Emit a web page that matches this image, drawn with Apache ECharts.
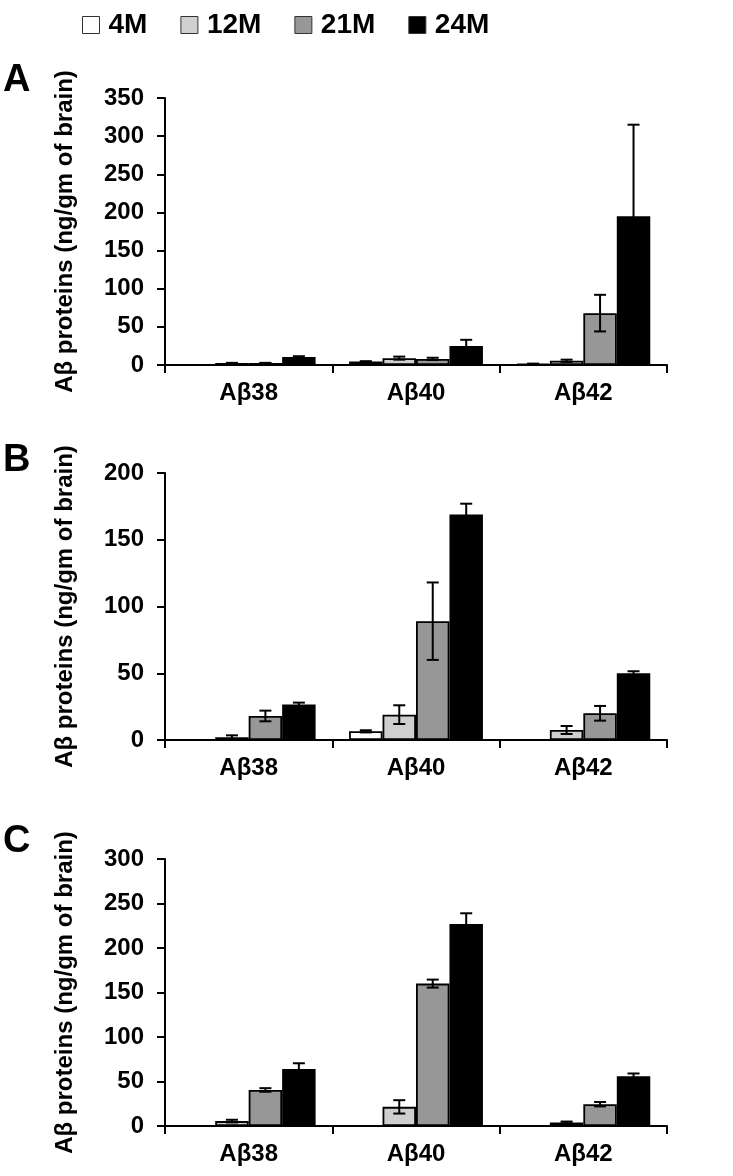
<!DOCTYPE html>
<html>
<head>
<meta charset="utf-8">
<script src="https://cdn.jsdelivr.net/npm/echarts@6/dist/echarts.min.js"></script>
<style>
  html, body { margin: 0; padding: 0; background: #fff; }
  #main { width: 733px; height: 1176px; }
</style>
</head>
<body>
<div id="main"></div>
<script>
const categories = ["Aβ38", "Aβ40", "Aβ42"];
const ages = ["4M", "12M", "21M", "24M"];
const ageColors = ["#ffffff", "#cfcfcf", "#979797", "#000000"];

// panel A (means, then SEM), order Aβ38, Aβ40, Aβ42
const a4M = [0, 4.5, 1.5];
const a12M = [2.5, 9, 5.5];
const a21M = [2.5, 8, 68];
const a24M = [10.5, 25, 195];
const a4MErr = [0, 0.5, 0.3];
const a12MErr = [0.3, 2, 1.5];
const a21MErr = [0.3, 1.5, 24];
const a24MErr = [1, 8, 120];

// panel B
const b4M = [0, 6.5, 0];
const b12M = [2, 19, 7.5];
const b21M = [18, 89, 20];
const b24M = [26.5, 169, 50];
const b4MErr = [0, 0.8, 0];
const b12MErr = [1.5, 7, 3];
const b21MErr = [4, 29, 5.5];
const b24MErr = [1.5, 8, 1.5];

// panel C
const c4M = [0, 0, 0];
const c12M = [5.5, 21.5, 4];
const c21M = [40.5, 160, 24.5];
const c24M = [64, 227, 56];
const c4MErr = [0, 0, 0];
const c12MErr = [1.5, 7.5, 1];
const c21MErr = [2, 4.5, 2.5];
const c24MErr = [6.5, 12, 3];

const panelMax = [350, 200, 300];
const panelLabels = ["A", "B", "C"];

const panels = [
  { means: [a4M, a12M, a21M, a24M], errs: [a4MErr, a12MErr, a21MErr, a24MErr] },
  { means: [b4M, b12M, b21M, b24M], errs: [b4MErr, b12MErr, b21MErr, b24MErr] },
  { means: [c4M, c12M, c21M, c24M], errs: [c4MErr, c12MErr, c21MErr, c24MErr] },
];

const FONT = "'Liberation Sans', Arial, sans-serif";
const gridTops = [98, 473, 859];
const labelY = [81, 461, 842];

var grids = [], xAxes = [], yAxes = [], series = [], graphics = [];

panels.forEach((p, k) => {
  grids.push({ left: 165, width: 502, top: gridTops[k], height: 267 });
  xAxes.push({
    type: "category",
    gridIndex: k,
    data: categories,
    axisLine: { lineStyle: { color: "#000", width: 2 } },
    axisTick: { show: true, length: 8, lineStyle: { color: "#000", width: 2 } },
    axisLabel: { color: "#000", fontSize: 24, fontWeight: "bold", fontFamily: FONT, margin: 16 },
  });
  yAxes.push({
    type: "value",
    gridIndex: k,
    min: 0,
    max: panelMax[k],
    interval: 50,
    name: "Aβ proteins (ng/gm of brain)",
    nameLocation: "middle",
    nameRotate: 90,
    nameGap: 88,
    nameTextStyle: { color: "#000", fontSize: 24, fontWeight: "bold", fontFamily: FONT },
    splitLine: { show: false },
    axisLine: { show: true, lineStyle: { color: "#000", width: 2 } },
    axisTick: { show: true, length: 8, lineStyle: { color: "#000", width: 2 } },
    axisLabel: { color: "#000", fontSize: 24, fontWeight: "bold", fontFamily: FONT, margin: 21 },
  });
  p.means.forEach((vals, i) => {
    series.push({
      name: ages[i],
      type: "bar",
      xAxisIndex: k,
      yAxisIndex: k,
      data: vals,
      barGap: "0%",
      barCategoryGap: "20%",
      itemStyle: { color: ageColors[i], borderColor: "#000", borderWidth: 1.8 },
      emphasis: { disabled: true },
    });
  });
  // error bars: [category, age index, mean, err]
  var errData = [];
  p.means.forEach((vals, i) => {
    vals.forEach((v, c) => {
      if (p.errs[i][c] > 0) errData.push([c, i, v, p.errs[i][c]]);
    });
  });
  series.push({
    type: "custom",
    xAxisIndex: k,
    yAxisIndex: k,
    z: 10,
    data: errData,
    encode: { x: 0, y: 2 },
    renderItem: function (params, api) {
      var c = api.value(0), i = api.value(1), v = api.value(2), e = api.value(3);
      var band = api.size([1, 0])[0];
      var barW = (band * 0.8) / 4;
      var center = api.coord([c, v]);
      var x = center[0] + (i - 1.5) * barW;
      var top = api.coord([c, v + e])[1];
      var bot = api.coord([c, Math.max(0, v - e)])[1];
      var half = 6;
      var style = { stroke: "#000", lineWidth: 2 };
      return {
        type: "group",
        children: [
          { type: "line", shape: { x1: x, y1: top, x2: x, y2: bot }, style: style },
          { type: "line", shape: { x1: x - half, y1: top, x2: x + half, y2: top }, style: style },
          { type: "line", shape: { x1: x - half, y1: bot, x2: x + half, y2: bot }, style: style },
        ],
      };
    },
  });
  graphics.push({
    type: "text",
    left: 3,
    top: labelY[k] - 19,
    style: { text: panelLabels[k], fill: "#000", font: "bold 38px " + FONT },
  });
});

var option = {
  animation: false,
  backgroundColor: "#fff",
  legend: {
    data: ages,
    left: 77,
    top: 6,
    itemWidth: 17,
    itemHeight: 17,
    itemGap: 33,
    icon: "rect",
    itemStyle: { borderColor: "#333", borderWidth: 1 },
    textStyle: { color: "#000", fontSize: 28, fontWeight: "bold", fontFamily: FONT, padding: [0, 0, 0, 4] },
  },
  grid: grids,
  xAxis: xAxes,
  yAxis: yAxes,
  series: series,
  graphic: graphics,
};

var myChart = echarts.init(document.getElementById("main"));
myChart.setOption(option);
</script>
</body>
</html>
